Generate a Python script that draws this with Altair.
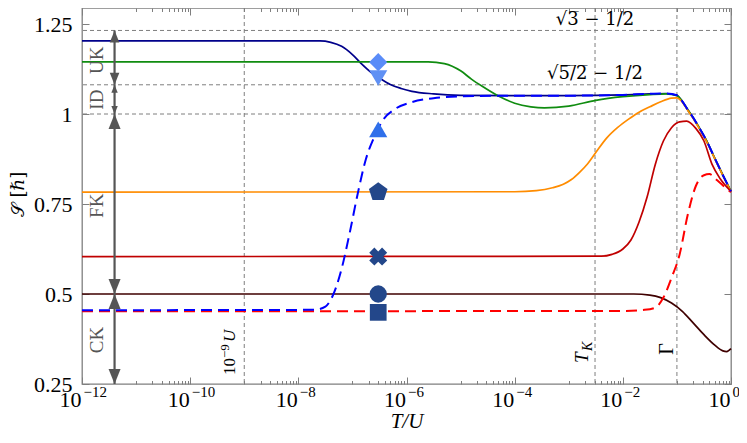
import math
import altair as alt
import pandas as pd

# ---------------- data (x given as log10(T/U)) ----------------
navy_exp = [-12, -7.6, -7.4, -7.2, -7.0, -6.85, -6.65, -6.5, -6.3, -6.1, -5.9, -5.5, -5.0, -4.0, -3.0, -2.0,
            -1.5, -1.2, -1.0, -0.9, -0.8, -0.7, -0.6, -0.45, -0.3, -0.15, 0]
navy_S = [1.203, 1.203, 1.199, 1.188, 1.165, 1.142, 1.115, 1.10, 1.082, 1.071, 1.063, 1.056, 1.052, 1.051, 1.051,
          1.053, 1.056, 1.057, 1.052, 1.035, 1.012, 0.99, 0.965, 0.925, 0.877, 0.83, 0.785]

green_exp = [-12, -5.6, -5.3, -5.0, -4.8, -4.6, -4.3, -4.0, -3.7, -3.45, -3.0, -2.5, -2.0, -1.5, -1.2, -1.0,
             -0.9, -0.8, -0.7, -0.6, -0.45, -0.3, -0.15, 0]
green_S = [1.145, 1.145, 1.140, 1.12, 1.097, 1.077, 1.05, 1.03, 1.02, 1.017, 1.022, 1.038, 1.048, 1.054, 1.056,
           1.051, 1.035, 1.012, 0.99, 0.965, 0.925, 0.877, 0.83, 0.785]

orange_exp = [-12, -4.0, -3.6, -3.3, -3.1, -2.95, -2.8, -2.65, -2.5, -2.3, -2.1, -1.9, -1.7, -1.5, -1.3, -1.1,
              -1.0, -0.9, -0.8, -0.7, -0.6, -0.45, -0.3, -0.15, 0]
orange_S = [0.783, 0.784, 0.787, 0.795, 0.805, 0.818, 0.838, 0.862, 0.893, 0.933, 0.962, 0.985, 1.005, 1.02,
            1.034, 1.044, 1.045, 1.033, 1.01, 0.988, 0.963, 0.923, 0.876, 0.829, 0.784]

red_exp = [-12, -2.4, -2.2, -2.0, -1.85, -1.7, -1.55, -1.4, -1.25, -1.1, -0.95, -0.82, -0.65, -0.5, -0.35, -0.2, 0]
red_S = [0.604, 0.605, 0.61, 0.625, 0.65, 0.70, 0.77, 0.86, 0.925, 0.962, 0.978, 0.98, 0.96, 0.925, 0.86, 0.82, 0.785]

maroon_exp = [-12, -1.8, -1.5, -1.3, -1.1, -0.9, -0.7, -0.5, -0.3, -0.15, -0.08, 0]
maroon_S = [0.5, 0.5, 0.497, 0.49, 0.475, 0.452, 0.42, 0.387, 0.358, 0.342, 0.34, 0.348]

reddash_exp = [-12, -2.0, -1.6, -1.4, -1.25, -1.1, -0.95, -0.8, -0.65, -0.5, -0.4, -0.25, -0.1, 0]
reddash_S = [0.452, 0.453, 0.456, 0.462, 0.49, 0.545, 0.61, 0.72, 0.8, 0.83, 0.833, 0.815, 0.795, 0.783]

bluedash_exp = [-12, -7.7, -7.5, -7.35, -7.2, -7.05, -6.9, -6.75, -6.6, -6.45, -6.2, -5.9, -5.5, -5.0, -4.0, -3.0,
                -2.0, -1.5, -1.2, -1.0, -0.9, -0.8, -0.7, -0.6, -0.45, -0.3, -0.15, 0]
bluedash_S = [0.455, 0.456, 0.465, 0.5, 0.57, 0.67, 0.78, 0.875, 0.935, 0.98, 1.015, 1.033, 1.044, 1.049, 1.051,
              1.051, 1.053, 1.056, 1.057, 1.052, 1.035, 1.012, 0.99, 0.965, 0.925, 0.877, 0.83, 0.785]

# reference lines
hline_S = [math.sqrt(3) - 0.5, math.sqrt(5 / 2) - 0.5, 1.0]
vline_T = [1e-9, 3.06e-3, 0.1]

# markers at T = 3e-7
marker_T = 3e-7
marker_names = ["diamond", "tridown", "triup", "pentagon", "xcross", "circle", "square"]
marker_S = [1.144, 1.10, 0.957, 0.783, 0.604, 0.5, 0.449]

# regime arrows
arrow_T = 4e-12
arrow_label_T = 1.86e-12
arrow_names = ["UK", "ID", "FK", "CK"]
arrow_top = [math.sqrt(3) - 0.5, math.sqrt(5 / 2) - 0.5, 1.0, 0.5]
arrow_bottom = [math.sqrt(5 / 2) - 0.5, 1.0, 0.5, 0.25]
arrow_label_S = [1.149, 1.04, 0.745, 0.372]

# formula labels
formula_txt = ["√3̅ − 1/2", "√5̅/̅2̅ − 1/2"]
formula_S = [1.26, 1.112]

# rotated labels on the vertical lines (start positions along S)
vlabel_S = [0.275, 0.308, 0.331]

# axis ticks
x_major_exp = [-12, -10, -8, -6, -4, -2, 0]
x_minor_exp = [-11, -9, -7, -5, -3, -1]
y_ticks = [0.25, 0.5, 0.75, 1.0, 1.25]
y_domain = [0.25, 0.25 + 376 / 360]

# ---------------- styles ----------------
SERIF = "Liberation Serif"
GRAY = "#7f7f7f"
ARROW_GRAY = "#555555"
head_sizes = [576, 256, 900, 900]
marker_shapes = {
    "diamond": ("diamond", "#5a8cf8", 330, 0),
    "tridown": ("triangle-down", "#5f90f4", 330, 0),
    "triup": ("triangle-up", "#2f6fea", 330, 0),
    "pentagon": ("M0,-1L0.951,-0.309L0.588,0.809L-0.588,0.809L-0.951,-0.309Z", "#23478a", 380, 0),
    "xcross": ("cross", "#23478a", 330, 45),
    "circle": ("circle", "#23478a", 300, 0),
    "square": ("square", "#23478a", 280, 0),
}

xs = alt.Scale(type="log", domain=[1e-12, 1], nice=False)
ys = alt.Scale(domain=y_domain, nice=False, zero=False)


def X(field, axis=None):
    return alt.X(field, type="quantitative", scale=xs, axis=axis)


def Y(field, axis=None):
    return alt.Y(field, type="quantitative", scale=ys, axis=axis)


x_major_vals = [10.0 ** e for e in x_major_exp]
x_tick_vals = x_major_vals + [j * 10.0 ** k for k in x_minor_exp for j in range(1, 10)]
LOG10 = "log(datum.value)/LN10"
base_expr = f"abs({LOG10} - 2*round({LOG10}/2)) < 0.01 ? '10' : ''"
exp_expr = " : ".join(
    f"abs({LOG10}-({e}))<0.01 ? '{str(e).replace('-', '−')}'" for e in x_major_exp
) + " : ''"
major_test = f"abs({LOG10} - 2*round({LOG10}/2)) < 0.01"
x_tick_dash = {"condition": {"test": major_test, "value": [7, 0]}, "value": [0, 3.5, 3.5, 0]}

tick_axis = dict(domain=False, grid=False, tickSize=7, offset=-7, tickColor=GRAY, tickWidth=1,
                 labelFont=SERIF, labelFontSize=22, labelColor="black", labelOverlap=False)

x_bottom = alt.Axis(orient="bottom", values=x_tick_vals, labelExpr=base_expr, tickDash=x_tick_dash,
                    labelAlign="right", labelOffset=-1, labelBaseline="alphabetic", labelPadding=22,
                    labelFlush=False,
                    title="T/U", titleFont=SERIF, titleFontSize=21, titleFontStyle="italic",
                    titleFontWeight="normal", titleColor="black", titleY=50, titleBaseline="alphabetic",
                    **tick_axis)
x_bottom_exp = alt.Axis(orient="bottom", values=x_major_vals, labelExpr=exp_expr, ticks=False, tickSize=0,
                        domain=False, grid=False, labelFont=SERIF, labelFontSize=15, labelColor="black",
                        labelAlign="left", labelOffset=1, labelBaseline="alphabetic", labelPadding=12,
                        labelFlush=False, labelOverlap=False, title=None)
y_left = alt.Axis(orient="left", values=y_ticks, labelExpr="'' + datum.value", labelPadding=10,
                  title="𝒮 [ℏ]", titleFont="DejaVu Serif", titleFontSize=18, titleFontWeight="normal",
                  titleColor="black", titleX=-71, titleY=186, titleAngle=270, titleBaseline="middle",
                  titleAlign="center", **tick_axis)
x_top = alt.Axis(orient="top", values=x_tick_vals, labels=False, title=None, tickDash=x_tick_dash,
                 **tick_axis)
y_right = alt.Axis(orient="right", values=y_ticks, labels=False, title=None, **tick_axis)


def curve_df(exps, vals):
    return pd.DataFrame({"T": [10.0 ** e for e in exps], "S": vals})


layers = []

# reference dashed lines
layers.append(alt.Chart(pd.DataFrame({"S": hline_S})).mark_rule(
    color=GRAY, strokeWidth=1, strokeDash=[4, 3]).encode(y=Y("S")))
layers.append(alt.Chart(pd.DataFrame({"T": vline_T})).mark_rule(
    color=GRAY, strokeWidth=1, strokeDash=[4, 3]).encode(x=X("T")))

curves = [
    (navy_exp, navy_S, "#00008b", None, 1.7),
    (green_exp, green_S, "#108c10", None, 1.7),
    (orange_exp, orange_S, "#ff8c00", None, 1.7),
    (red_exp, red_S, "#c00000", None, 1.7),
    (maroon_exp, maroon_S, "#3f0000", None, 1.7),
    (reddash_exp, reddash_S, "#ff0000", [11, 6], 2.0),
    (bluedash_exp, bluedash_S, "#0000ff", [11, 6], 2.0),
]
for i, (ex, vals, col, dash, w) in enumerate(curves):
    kw = dict(color=col, strokeWidth=w, interpolate="monotone")
    if dash:
        kw["strokeDash"] = dash
    if i == 0:
        enc = dict(x=X("T", x_bottom), y=Y("S", y_left))
    elif i == 1:
        enc = dict(x=X("T", x_top), y=Y("S", y_right))
    elif i == 2:
        enc = dict(x=X("T", x_bottom_exp), y=Y("S"))
    else:
        enc = dict(x=X("T"), y=Y("S"))
    layers.append(alt.Chart(curve_df(ex, vals)).mark_line(**kw).encode(**enc))

# markers
for name, val in zip(marker_names, marker_S):
    shape, col, size, ang = marker_shapes[name]
    layers.append(alt.Chart(pd.DataFrame({"T": [marker_T], "S": [val]})).mark_point(
        shape=shape, filled=True, color=col, opacity=1, size=size, angle=ang, strokeWidth=0
    ).encode(x=X("T"), y=Y("S")))

# regime arrows
arrow_df = pd.DataFrame({"T": [arrow_T] * 4, "top": arrow_top, "bottom": arrow_bottom,
                         "name": arrow_names, "ly": arrow_label_S, "lx": [arrow_label_T] * 4})
layers.append(alt.Chart(arrow_df).mark_rule(color=ARROW_GRAY, strokeWidth=2.2).encode(
    x=X("T"), y=Y("top"), y2="bottom"))
for i in range(4):
    row = arrow_df.iloc[[i]]
    layers.append(alt.Chart(row).mark_point(
        shape="M0,0L0.4,1L-0.4,1Z", filled=True, color=ARROW_GRAY, opacity=1, size=head_sizes[i], strokeWidth=0
    ).encode(x=X("T"), y=Y("top")))
    layers.append(alt.Chart(row).mark_point(
        shape="M0,0L0.4,-1L-0.4,-1Z", filled=True, color=ARROW_GRAY, opacity=1, size=head_sizes[i], strokeWidth=0
    ).encode(x=X("T"), y=Y("bottom")))
layers.append(alt.Chart(arrow_df).mark_text(
    font=SERIF, fontSize=19, color=ARROW_GRAY, angle=270, align="center", baseline="middle"
).encode(x=X("lx"), y=Y("ly"), text="name"))

# formula labels centred on the T_K line
formula_df = pd.DataFrame({"T": [vline_T[1]] * 2, "S": formula_S, "txt": formula_txt})
layers.append(alt.Chart(formula_df).mark_text(
    font="DejaVu Serif", fontSize=18, color="black", align="center", baseline="middle"
).encode(x=X("T"), y=Y("S"), text="txt"))


# rotated labels on vertical lines
def vtext(idx, txt, size, italic, dx, dy):
    df = pd.DataFrame({"T": [vline_T[idx]], "S": [vlabel_S[idx]], "txt": [txt]})
    kw = dict(font=SERIF, fontSize=size, color="black", angle=270, align="left",
              baseline="alphabetic", dx=dx, dy=dy)
    if italic:
        kw["fontStyle"] = "italic"
    return alt.Chart(df).mark_text(**kw).encode(x=X("T"), y=Y("S"), text="txt")


layers.append(vtext(0, "10", 17, False, 0, -9))
layers.append(vtext(0, "−9", 13, False, 17, -15))
layers.append(vtext(0, "U", 17, True, 33, -9))
layers.append(vtext(1, "T", 19, True, 0, -7))
layers.append(vtext(1, "K", 14, True, 12, -3))
layers.append(vtext(2, "Γ", 20, False, 0, -4))

chart = alt.layer(*layers).resolve_axis(x="independent", y="independent").properties(
    width=649, height=376,
    padding={"left": 74, "top": 0, "right": 8, "bottom": 47},
    autosize=alt.AutoSizeParams(type="none"),
).configure_view(stroke=GRAY, strokeWidth=1.3)

chart.save("out.html", embed_options={"renderer": "svg", "actions": False})
